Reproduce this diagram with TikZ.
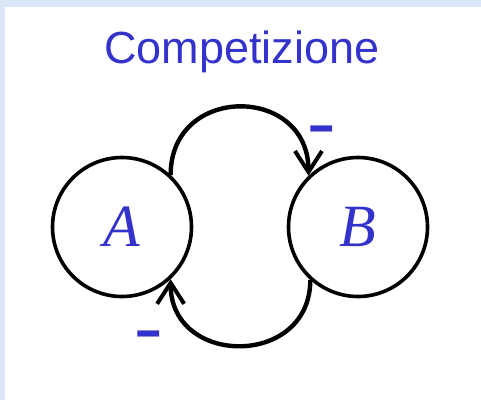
\documentclass[tikz,border=0pt]{standalone}
\usepackage{fontspec}
\setmainfont{Liberation Serif}
\newfontfamily\titlefont{Liberation Sans}
\usetikzlibrary{arrows.meta}
\definecolor{txtblue}{RGB}{51,51,204}
\definecolor{bgblue}{RGB}{218,231,247}
\begin{document}
\begin{tikzpicture}[x=1pt,y=-1pt,
  species/.style={circle,draw=black,line width=3.6pt,minimum size=139pt,inner sep=0pt,
    font=\fontsize{60}{60}\selectfont\itshape,text=txtblue},
  link/.style={line width=4.4pt,-{Straight Barb[length=21pt,width=27pt,line width=4pt]}},
  sign/.style={font=\titlefont\fontsize{44}{44}\bfseries,text=txtblue,inner sep=0pt,yscale=1.4}]
\useasboundingbox (0,0) rectangle (481,400);
\fill[bgblue] (0,0) rectangle (481,400);
\fill[white] (5,7) rectangle (481,400);
\node[font=\titlefont\fontsize{45}{45}\selectfont,text=txtblue] (title) at (242,52) {Competizione};
\node[species] (A) at (122,227) {A};
\node[species] (B) at (358,227) {B};
\draw[link] (A.47) .. controls +(0,-91) and +(0,-91) .. (B.134);
\draw[link] (B.228) .. controls +(0,88) and +(0,88) .. (A.313);
\node[sign] (s1) at (322,136) {–};
\node[sign] (s2) at (149,341) {–};
\end{tikzpicture}
\end{document}
